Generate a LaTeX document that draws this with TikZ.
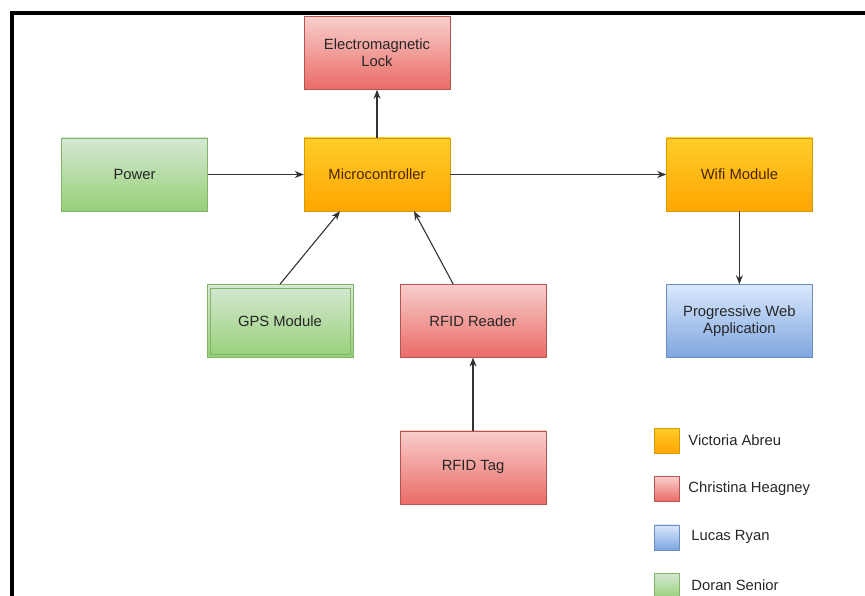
\documentclass[tikz,border=0pt]{standalone}
\usepackage{fontspec}
\setmainfont{Liberation Sans}
\usepackage{tikz}
\usetikzlibrary{arrows.meta,positioning}
\definecolor{orangeTop}{HTML}{FFCD28}
\definecolor{orangeBot}{HTML}{FFA500}
\definecolor{orangeLine}{HTML}{D79B00}
\definecolor{orangeText}{HTML}{4A2600}
\definecolor{redTop}{HTML}{F8CECC}
\definecolor{redBot}{HTML}{EA6B66}
\definecolor{redLine}{HTML}{B85450}
\definecolor{blueTop}{HTML}{DAE8FC}
\definecolor{blueBot}{HTML}{7EA6E0}
\definecolor{blueLine}{HTML}{6C8EBF}
\definecolor{greenTop}{HTML}{D5E8D4}
\definecolor{greenBot}{HTML}{97D077}
\definecolor{greenLine}{HTML}{82B366}
\definecolor{arrowGray}{HTML}{333333}
\tikzset{
  block/.style={rectangle, align=center, minimum width=146pt, minimum height=73pt, inner sep=2pt, text=black!85, font=\fontsize{14.8}{17}\selectfont},
  orangebox/.style={block, draw=orangeLine, top color=orangeTop, bottom color=orangeBot, text=orangeText},
  redbox/.style={block, draw=redLine, top color=redTop, bottom color=redBot},
  bluebox/.style={block, draw=blueLine, top color=blueTop, bottom color=blueBot},
  greenbox/.style={block, draw=greenLine, top color=greenTop, bottom color=greenBot},
  swatch/.style={rectangle, minimum size=25pt, inner sep=0pt},
  keytext/.style={right=9pt, font=\fontsize{14.8}{17}\selectfont, text=black!85, inner sep=0pt},
  arrow/.style={-{Stealth[length=9pt,width=7pt]}, line width=1.1pt, draw=arrowGray}
}
\begin{document}
\begin{tikzpicture}[x=1pt, y=-1pt, node distance=73pt and 96pt]
  \useasboundingbox (0,0) rectangle (865,596);
  % frame
  \draw[line width=4pt] (12,596) -- (12,13) -- (865,13);

  \node[orangebox] (micro) at (377,174.5) {Microcontroller};
  \node[redbox, above=48pt of micro] (lock) {Electromagnetic\\Lock};
  \node[greenbox, left=of micro] (power) {Power};
  \node[orangebox, right=216pt of micro] (wifi) {Wifi Module};
  \node[greenbox, below=of micro, xshift=-97pt] (gps) {GPS Module};
  \draw[greenLine] ([shift={(3.5,3.5)}]gps.north west) rectangle ([shift={(-3.5,-3.5)}]gps.south east);
  \node[redbox, below=of micro, xshift=96pt] (reader) {RFID Reader};
  \node[bluebox, below=of wifi] (pwa) {Progressive Web\\Application};
  \node[redbox, below=of reader] (tag) {RFID Tag};

  % legend
  \node[swatch, draw=orangeLine, top color=orangeTop, bottom color=orangeBot] (keyV) at (666.5,440.5) {};
  \node[swatch, draw=redLine, top color=redTop, bottom color=redBot, below=23pt of keyV] (keyC) {};
  \node[swatch, draw=blueLine, top color=blueTop, bottom color=blueBot, below=23pt of keyC] (keyL) {};
  \node[swatch, draw=greenLine, top color=greenTop, bottom color=greenBot, below=23pt of keyL] (keyD) {};
  \node[keytext] at (keyV.east) {Victoria Abreu};
  \node[keytext] at (keyC.east) {Christina Heagney};
  \node[keytext, right=12pt] at (keyL.east) {Lucas Ryan};
  \node[keytext, right=12pt] at (keyD.east) {Doran Senior};

  \draw[arrow] (power) -- (micro);
  \draw[arrow] (micro) -- (lock);
  \draw[arrow] (micro) -- (wifi);
  \draw[arrow] (gps.north) -- (micro.south -| 340,0);
  \draw[arrow] (reader) -- (micro.south -| 414,0);
  \draw[arrow] (wifi) -- (pwa);
  \draw[arrow] (tag) -- (reader);
\end{tikzpicture}
\end{document}
